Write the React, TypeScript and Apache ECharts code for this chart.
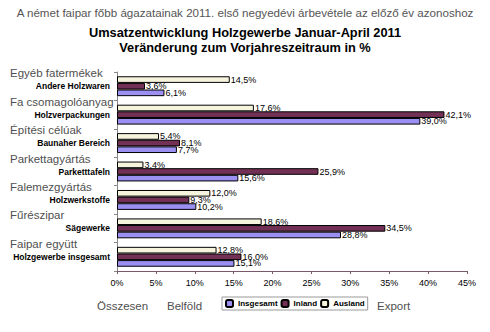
import React, { useEffect, useRef } from "react";
import * as echarts from "echarts";

const categoriesDe = [
  "Andere Holzwaren",
  "Holzverpackungen",
  "Baunaher Bereich",
  "Parketttafeln",
  "Holzwerkstoffe",
  "Sägewerke",
  "Holzgewerbe insgesamt",
];
const categoriesHu = [
  "Egyéb fatermékek",
  "Fa csomagolóanyag",
  "Építési célúak",
  "Parkettagyártás",
  "Falemezgyártás",
  "Fűrészipar",
  "Faipar együtt",
];
const ausland = [14.5, 17.6, 5.4, 3.4, 12.0, 18.6, 12.8];
const inland = [3.6, 42.1, 8.1, 25.9, 9.3, 34.5, 16.0];
const insgesamt = [6.1, 39.0, 7.7, 15.6, 10.2, 28.8, 15.1];
const xTicks = { min: 0, max: 45, interval: 5 };
const headerText =
  "A német faipar főbb ágazatainak 2011. első negyedévi árbevétele az előző év azonoshoz";
const titleLines = [
  "Umsatzentwicklung Holzgewerbe Januar-April 2011",
  "Veränderung zum Vorjahreszeitraum in %",
];
const bottomLabels = ["Összesen", "Belföld", "Export"];

const fmt = (p: any) => Number(p.value).toFixed(1).replace(".", ",") + "%";

export default function App() {
  const ref = useRef<HTMLDivElement>(null);
  useEffect(() => {
    document.body.style.margin = "0";
    const chart = echarts.init(ref.current!, null, { renderer: "svg" });
    const font = "Liberation Sans, Arial, sans-serif";
    const labelStyle = {
      show: true,
      position: "right" as const,
      distance: 1,
      formatter: fmt,
      fontFamily: font,
      fontSize: 9,
      color: "#000",
    };
    const mk = (name: string, data: number[], color: string) => ({
      name,
      type: "bar" as const,
      data,
      itemStyle: { color, borderColor: "#000", borderWidth: 1 },
      label: labelStyle,
      barGap: "0%",
      barCategoryGap: "30%",
    });
    const bottomText = (i: number, x: number) => ({
      type: "text",
      left: x,
      top: 300,
      style: { text: bottomLabels[i], fontFamily: font, fontSize: 11.5, fill: "#505050" },
    });
    chart.setOption({
      animation: false,
      backgroundColor: "#fff",
      title: [
        {
          text: headerText,
          left: "center",
          top: 6,
          padding: 0,
          textStyle: { fontFamily: font, fontSize: 11.6, fontWeight: "normal", color: "#555" },
        },
        {
          text: titleLines[0],
          left: "center",
          top: 26,
          padding: 0,
          textStyle: { fontFamily: font, fontSize: 12.8, fontWeight: "bold", color: "#000" },
        },
        {
          text: titleLines[1],
          left: "center",
          top: 41,
          padding: 0,
          textStyle: { fontFamily: font, fontSize: 12.8, fontWeight: "bold", color: "#000" },
        },
      ],
      legend: {
        data: ["Insgesamt", "Inland", "Ausland"],
        left: 222,
        top: 297,
        itemWidth: 7,
        itemHeight: 7,
        itemGap: 3,
        padding: [2, 3, 2, 3],
        borderColor: "#999",
        borderWidth: 1,
        textStyle: { fontFamily: font, fontSize: 8, fontWeight: "bold", color: "#000" },
      },
      grid: { left: 117, right: 23, top: 72, bottom: 61, outerBoundsMode: "none" },
      xAxis: {
        type: "value",
        ...xTicks,
        splitLine: { show: false },
        axisLine: { show: true, lineStyle: { color: "#7a5a6a" } },
        axisTick: { show: true, length: 3, lineStyle: { color: "#7a5a6a" } },
        axisLabel: {
          formatter: "{value}%",
          fontFamily: font,
          fontSize: 9,
          color: "#000",
          margin: 7,
        },
      },
      yAxis: {
        type: "category",
        data: categoriesDe,
        inverse: true,
        axisLine: { show: true, lineStyle: { color: "#888" } },
        axisTick: { show: true, length: 3, lineStyle: { color: "#888" } },
        axisLabel: {
          interval: 0,
          margin: 7,
          formatter: (v: string, i: number) => `{hu|${categoriesHu[i]}}\n{de|${v}}\n{sp| }`,
          rich: {
            hu: {
              width: 100,
              align: "left",
              fontFamily: font,
              fontSize: 11.5,
              lineHeight: 14,
              color: "#505050",
            },
            de: {
              width: 100,
              align: "right",
              fontFamily: font,
              fontSize: 8.5,
              fontWeight: "bold",
              lineHeight: 12,
              color: "#000",
            },
            sp: { width: 100, fontSize: 8, lineHeight: 14 },
          },
        },
      },
      series: [
        mk("Ausland", ausland, "#f6f4dc"),
        mk("Inland", inland, "#733055"),
        mk("Insgesamt", insgesamt, "#9b8ff2"),
      ],
      graphic: [bottomText(0, 97), bottomText(1, 167), bottomText(2, 377)],
    });
    return () => chart.dispose();
  }, []);
  return <div ref={ref} style={{ width: 490, height: 332 }} />;
}
